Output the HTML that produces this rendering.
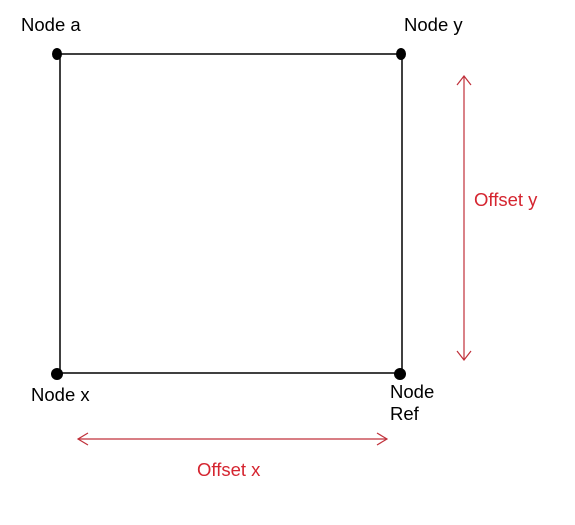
<!DOCTYPE html>
<html><head><style>
html,body{margin:0;padding:0;background:#fff;}
svg{display:block;}
text{font-family:"Liberation Sans",Arial,sans-serif;font-size:18.5px;}
</style></head><body>
<svg width="575" height="525" viewBox="0 0 575 525" xmlns="http://www.w3.org/2000/svg">
<rect width="575" height="525" fill="#fff"/>
<g stroke="#000" stroke-width="1.5" fill="none">
<line x1="57" y1="54" x2="401" y2="54"/>
<line x1="60" y1="54" x2="60" y2="373"/>
<line x1="402" y1="54" x2="402" y2="373"/>
<line x1="57" y1="373" x2="401" y2="373"/>
</g>
<g fill="#000">
<ellipse cx="57" cy="54" rx="5" ry="6"/>
<ellipse cx="401" cy="54" rx="5" ry="6"/>
<circle cx="57" cy="374" r="6"/>
<circle cx="400" cy="374" r="6"/>
</g>
<g stroke="#c0303a" stroke-width="1.2" fill="none">
<line x1="464" y1="76" x2="464" y2="360"/>
<polyline points="457,85 464,76 471,85"/>
<polyline points="457,351 464,360 471,351"/>
<line x1="78" y1="439" x2="387" y2="439"/>
<polyline points="88,433 78,439 88,445"/>
<polyline points="377,433 387,439 377,445"/>
</g>
<g fill="#000">
<text x="21" y="31">Node a</text>
<text x="404" y="31">Node y</text>
<text x="31" y="401">Node x</text>
<text x="390" y="398">Node</text>
<text x="390" y="420">Ref</text>
</g>
<g fill="#d52530">
<text x="474" y="206">Offset y</text>
<text x="197" y="476">Offset x</text>
</g>
</svg>
</body></html>
